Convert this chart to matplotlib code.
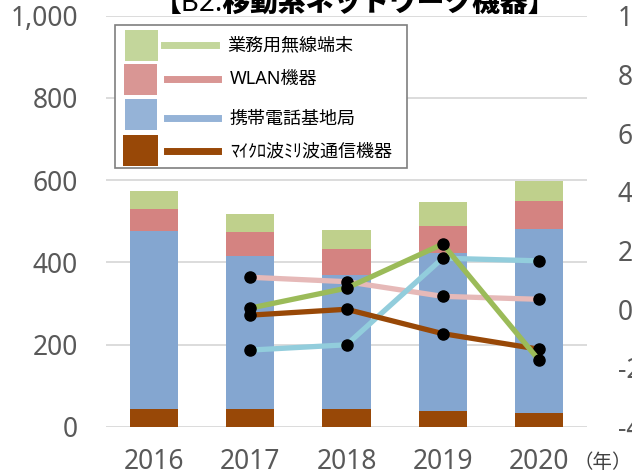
import matplotlib
matplotlib.use('Agg')
import matplotlib.pyplot as plt
from matplotlib.patches import Rectangle
from matplotlib.lines import Line2D
import numpy as np

plt.rcParams['font.family'] = ['Noto Sans', 'Noto Sans CJK JP']

# Data (bars: left axis, lines: YoY growth in %, right axis)
years = ['2016', '2017', '2018', '2019', '2020']
micro = [44, 42, 42, 39, 34]        # マイクロ波ミリ波通信機器
cell = [433, 373, 327, 384, 447]    # 携帯電話基地局
wlan = [53, 58, 63, 66, 69]         # WLAN機器
pmr = [44, 44, 47, 58, 47]          # 業務用無線端末

growth_years = ['2017', '2018', '2019', '2020']
pmr_growth = [0.4, 7.2, 22.2, -17.3]
wlan_growth = [10.9, 9.4, 4.4, 3.4]
cell_growth = [-13.9, -12.1, 17.4, 16.5]
micro_growth = [-2.0, 0.0, -8.3, -13.6]

labels = ['業務用無線端末', 'WLAN機器', '携帯電話基地局', 'ﾏｲｸﾛ波ﾐﾘ波通信機器']

W, H = 632, 476
fig = plt.figure(figsize=(W / 100, H / 100), dpi=100)

def px(x, y):
    return x / W, 1 - y / H

ax = fig.add_axes([106 / W, (H - 426.7) / H, 481 / W, 411 / H])
x = np.arange(len(years))
bw = 0.5
b1 = np.array(micro)
b2 = b1 + np.array(cell)
b3 = b2 + np.array(wlan)
ax.bar(x, micro, bw, color='#984807', zorder=2)
ax.bar(x, cell, bw, bottom=b1, color='#84A6D0', zorder=2)
ax.bar(x, wlan, bw, bottom=b2, color='#D48381', zorder=2)
ax.bar(x, pmr, bw, bottom=b3, color='#BFD08C', zorder=2)

ax.set_xlim(-0.5, len(years) - 0.5)
ax.set_ylim(0, 1000)
ax.set_yticks(range(0, 1001, 200))
ax.set_yticklabels([f'{v:,}' for v in range(0, 1001, 200)])
ax.set_xticks(x)
ax.set_xticklabels(years)
ax.yaxis.grid(True, color='#D9D9D9', linewidth=1.3, zorder=0)
ax.set_axisbelow(True)
for s in ax.spines.values():
    s.set_visible(False)
ax.tick_params(axis='y', length=0, pad=20, labelsize=19, labelcolor='#595959')
ax.tick_params(axis='x', length=0, pad=15, labelsize=19, labelcolor='#595959')

# Growth rate lines
ax2 = ax.twinx()
ax2.set_ylim(-40, 100)
ax2.set_yticks(range(-40, 101, 20))
ax2.set_yticklabels([f'{v}%' for v in range(-40, 101, 20)])
for s in ax2.spines.values():
    s.set_visible(False)
ax2.tick_params(axis='y', length=0, pad=22, labelsize=19, labelcolor='#595959')

gx = [years.index(y) for y in growth_years]
line_kw = dict(linewidth=3.8, marker='o', markersize=8, markerfacecolor='black',
               markeredgecolor='black')
ax2.plot(gx, wlan_growth, color='#E6B9B8', zorder=3, **line_kw)
ax2.plot(gx, cell_growth, color='#92CDDC', zorder=4, **line_kw)
ax2.plot(gx, micro_growth, color='#984807', zorder=5, **line_kw)
ax2.plot(gx, pmr_growth, color='#9BBB59', zorder=6, **line_kw)

# Title (partly cut off at the top)
fig.text(355 / W, 1 - 12 / H, '【B2.移動系ネットワーク機器】', ha='center', va='baseline',
         fontsize=20, fontweight='heavy', color='black')

# Unit label
fig.text(632 / W, 1 - 463 / H, '（年）', ha='right', va='center', fontsize=14,
         color='#404040')

# Hand-drawn legend box
x0, y0 = px(115, 168)
x1, y1 = px(407, 25)
fig.add_artist(Rectangle((x0, y0), x1 - x0, y1 - y0, transform=fig.transFigure,
                         facecolor='white', edgecolor='#7F7F7F', linewidth=1.2, zorder=5))
leg_colors = ['#C3D69B', '#D99694', '#95B3D7', '#984807']
patch_boxes = [(125, 30, 158, 61), (124, 64, 157, 95), (125, 99, 157, 130), (123, 135, 158, 166)]
line_rows = [(164, 216, 45), (167, 218, 79), (167, 218, 118), (167, 218, 151)]
text_pos = [(227, 45), (230, 79), (229, 119), (230, 152)]
for c, pb, lr, tp, lab in zip(leg_colors, patch_boxes, line_rows, text_pos, labels):
    ax0, ay0 = px(pb[0], pb[3])
    ax1_, ay1 = px(pb[2], pb[1])
    fig.add_artist(Rectangle((ax0, ay0), ax1_ - ax0, ay1 - ay0, transform=fig.transFigure,
                             facecolor=c, edgecolor='none', zorder=6))
    lx0, ly = px(lr[0], lr[2])
    lx1, _ = px(lr[1], lr[2])
    fig.add_artist(Line2D([lx0, lx1], [ly, ly], transform=fig.transFigure,
                          color=c, linewidth=5, zorder=6))
    tx, ty = px(*tp)
    fig.text(tx, ty, lab, ha='left', va='center', fontsize=13, color='black', zorder=7)

fig.savefig('out.png', dpi=100, facecolor='white')
